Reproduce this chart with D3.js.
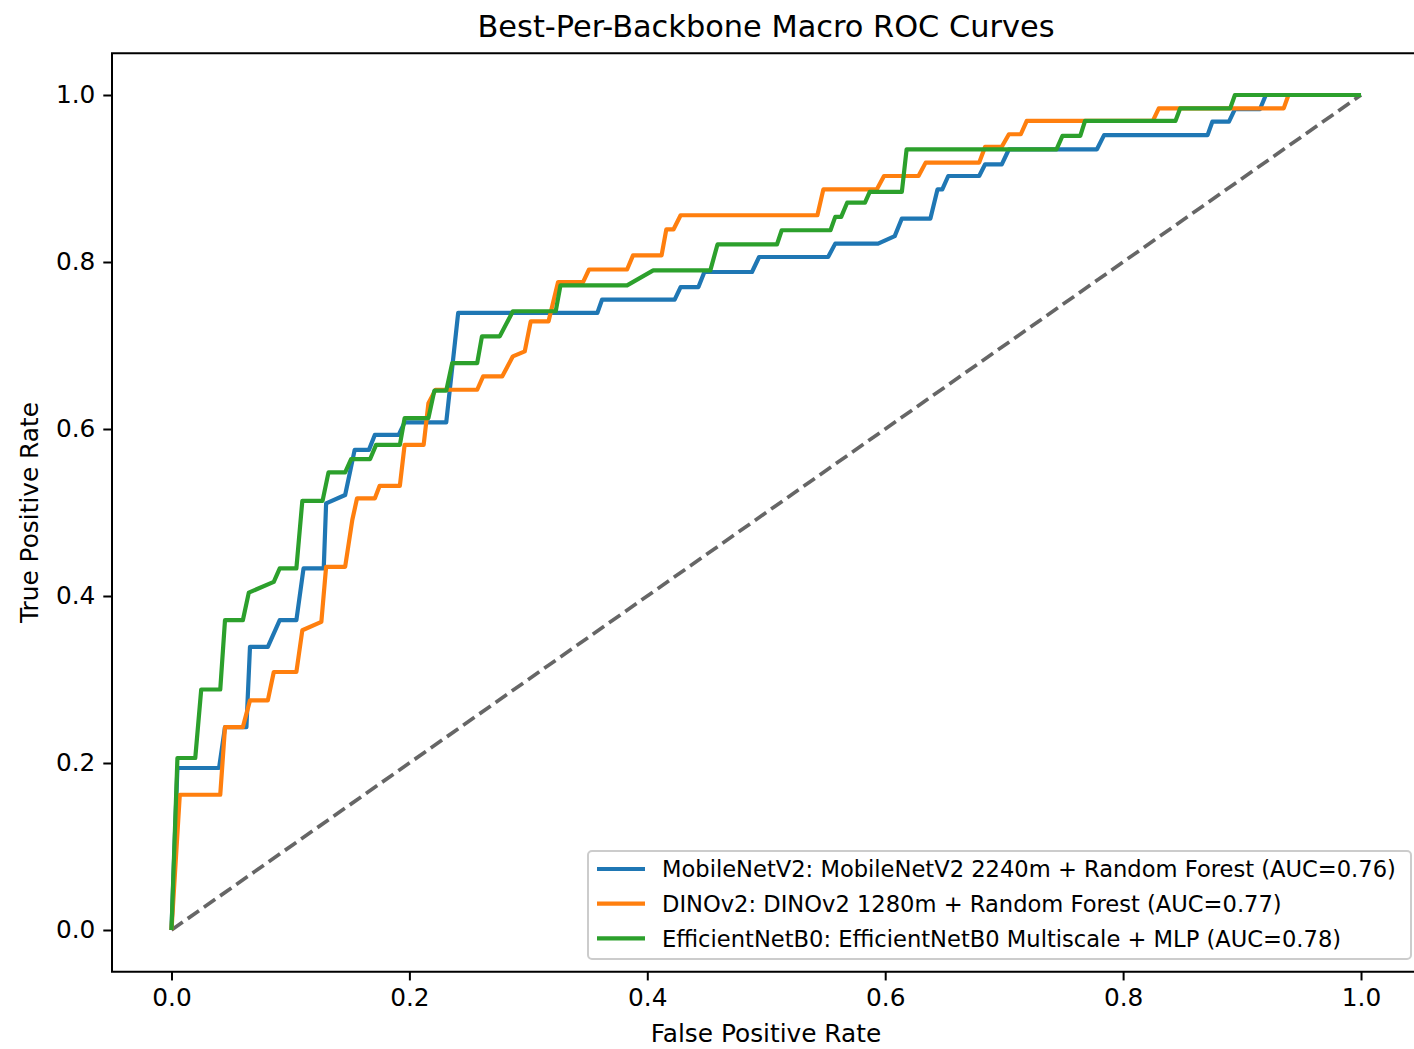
<!DOCTYPE html>
<html>
<head>
<meta charset="utf-8">
<script src="https://cdn.jsdelivr.net/npm/d3@7"></script>
<style>
  html, body { margin: 0; padding: 0; background: #fff; }
  svg text { font-family: "DejaVu Sans", sans-serif; fill: #000; }
</style>
</head>
<body>
<svg id="chart" width="1414" height="1049"></svg>
<script>
// ---------------- data ----------------
const xTicks = [0.0, 0.2, 0.4, 0.6, 0.8, 1.0];
const yTicks = [0.0, 0.2, 0.4, 0.6, 0.8, 1.0];

const seriesNames = [
  "MobileNetV2: MobileNetV2 2240m + Random Forest (AUC=0.76)",
  "DINOv2: DINOv2 1280m + Random Forest (AUC=0.77)",
  "EfficientNetB0: EfficientNetB0 Multiscale + MLP (AUC=0.78)"
];
const seriesColors = ["#1f77b4", "#ff7f0e", "#2ca02c"];

const mobileFpr = [0,0.005,0.040,0.045,0.060,0.063,0.066,0.081,0.091,0.105,0.111,0.128,0.130,0.146,0.154,0.166,0.171,0.191,0.196,0.231,0.241,0.358,0.362,0.423,0.428,0.443,0.448,0.488,0.494,0.552,0.558,0.594,0.608,0.614,0.638,0.644,0.648,0.653,0.679,0.684,0.698,0.704,0.778,0.784,0.871,0.875,0.889,0.894,0.915,0.920,1.0];
const mobileTpr = [0,0.194,0.194,0.243,0.243,0.243,0.339,0.339,0.371,0.371,0.433,0.433,0.511,0.521,0.575,0.575,0.593,0.593,0.608,0.608,0.739,0.739,0.755,0.755,0.770,0.770,0.788,0.788,0.806,0.806,0.822,0.822,0.831,0.852,0.852,0.887,0.887,0.903,0.903,0.917,0.917,0.935,0.935,0.952,0.952,0.968,0.968,0.983,0.983,1.0,1.0];

const dinoFpr = [0,0.007,0.041,0.045,0.060,0.066,0.081,0.086,0.105,0.110,0.126,0.130,0.146,0.152,0.156,0.171,0.175,0.192,0.196,0.212,0.216,0.222,0.257,0.262,0.278,0.287,0.297,0.302,0.317,0.325,0.346,0.351,0.383,0.388,0.412,0.416,0.422,0.428,0.543,0.548,0.593,0.599,0.628,0.634,0.679,0.684,0.698,0.704,0.714,0.719,0.825,0.830,0.935,0.939,1.0];
const dinoTpr = [0,0.162,0.162,0.243,0.243,0.275,0.275,0.309,0.309,0.359,0.369,0.435,0.435,0.491,0.517,0.517,0.532,0.532,0.581,0.581,0.631,0.647,0.647,0.663,0.663,0.687,0.693,0.729,0.729,0.776,0.776,0.791,0.791,0.808,0.808,0.839,0.839,0.856,0.856,0.887,0.887,0.903,0.903,0.919,0.919,0.938,0.938,0.953,0.953,0.969,0.969,0.984,0.984,1.0,1.0];

const effFpr = [0,0.005,0.020,0.025,0.041,0.045,0.060,0.065,0.086,0.091,0.105,0.110,0.127,0.132,0.146,0.151,0.167,0.172,0.192,0.196,0.216,0.221,0.231,0.236,0.257,0.261,0.276,0.287,0.323,0.327,0.383,0.405,0.453,0.459,0.509,0.513,0.554,0.558,0.563,0.568,0.583,0.587,0.614,0.618,0.744,0.749,0.764,0.768,0.844,0.848,0.890,0.894,1.0];
const effTpr = [0,0.206,0.206,0.288,0.288,0.371,0.371,0.404,0.417,0.433,0.433,0.514,0.514,0.548,0.548,0.564,0.564,0.581,0.581,0.613,0.613,0.646,0.646,0.679,0.679,0.711,0.711,0.741,0.741,0.772,0.772,0.790,0.790,0.821,0.821,0.838,0.838,0.854,0.854,0.871,0.871,0.884,0.884,0.935,0.935,0.951,0.951,0.969,0.969,0.984,0.984,1.0,1.0];

const chanceFpr = [0, 1];
const chanceTpr = [0, 1];

// ---------------- drawing ----------------
const svg = d3.select("#chart");
const x = d3.scaleLinear().domain([-0.05, 1.05]).range([112, 1420.5]);
const y = d3.scaleLinear().domain([-0.05, 1.05]).range([971.75, 53.25]);
const FS = 24.8;

const line = d3.line().x(d => x(d[0])).y(d => y(d[1]));

// chance line
svg.append("path")
  .datum(d3.zip(chanceFpr, chanceTpr))
  .attr("d", line)
  .attr("fill", "none")
  .attr("stroke", "#000")
  .attr("stroke-opacity", 0.6)
  .attr("stroke-width", 3.7)
  .attr("stroke-dasharray", "13.8,6");

const series = [
  d3.zip(mobileFpr, mobileTpr),
  d3.zip(dinoFpr, dinoTpr),
  d3.zip(effFpr, effTpr)
];
series.forEach((pts, i) => {
  svg.append("path")
    .datum(pts)
    .attr("d", line)
    .attr("fill", "none")
    .attr("stroke", seriesColors[i])
    .attr("stroke-width", 4.2)
    .attr("stroke-linejoin", "round")
    .attr("stroke-linecap", "butt");
});

// frame
svg.append("rect")
  .attr("x", x(-0.05)).attr("y", y(1.05))
  .attr("width", x(1.05) - x(-0.05)).attr("height", y(-0.05) - y(1.05))
  .attr("fill", "none").attr("stroke", "#000").attr("stroke-width", 2);

// axes
const xAxis = d3.axisBottom(x).tickValues(xTicks).tickFormat(d3.format(".1f")).tickSize(8.7).tickPadding(8);
const gx = svg.append("g").attr("transform", `translate(0,${y(-0.05)})`).call(xAxis);
gx.select(".domain").remove();
gx.selectAll(".tick line").attr("stroke", "#000").attr("stroke-width", 2);
gx.selectAll(".tick text").attr("font-size", FS).attr("font-family", "DejaVu Sans").attr("fill", "#000");

const yAxis = d3.axisLeft(y).tickValues(yTicks).tickFormat(d3.format(".1f")).tickSize(8.7).tickPadding(8);
const gy = svg.append("g").attr("transform", `translate(${x(-0.05)},0)`).call(yAxis);
gy.select(".domain").remove();
gy.selectAll(".tick line").attr("stroke", "#000").attr("stroke-width", 2);
gy.selectAll(".tick text").attr("font-size", FS).attr("font-family", "DejaVu Sans").attr("fill", "#000");

// labels
svg.append("text").attr("x", 766).attr("y", 37)
  .attr("text-anchor", "middle").attr("font-size", 30.4).text("Best-Per-Backbone Macro ROC Curves");
svg.append("text").attr("x", 766).attr("y", 1042)
  .attr("text-anchor", "middle").attr("font-size", FS).text("False Positive Rate");
svg.append("text").attr("transform", `translate(38,${(y(1.05) + y(-0.05)) / 2}) rotate(-90)`)
  .attr("text-anchor", "middle").attr("font-size", FS).text("True Positive Rate");

// legend
const LFS = 22.6;
const lg = svg.append("g");
const lx0 = 588, ly0 = 851, lx1 = 1411, ly1 = 959;
lg.append("rect").attr("x", lx0).attr("y", ly0).attr("width", lx1 - lx0).attr("height", ly1 - ly0)
  .attr("rx", 4).attr("fill", "#fff").attr("fill-opacity", 0.8)
  .attr("stroke", "#cccccc").attr("stroke-width", 2);
seriesNames.forEach((name, i) => {
  const cy = 869 + i * 34.7;
  lg.append("line").attr("x1", 597).attr("x2", 645).attr("y1", cy).attr("y2", cy)
    .attr("stroke", seriesColors[i]).attr("stroke-width", 4.2);
  lg.append("text").attr("x", 662).attr("y", cy).attr("dy", "0.36em")
    .attr("font-size", LFS).text(name);
});
</script>
</body>
</html>
